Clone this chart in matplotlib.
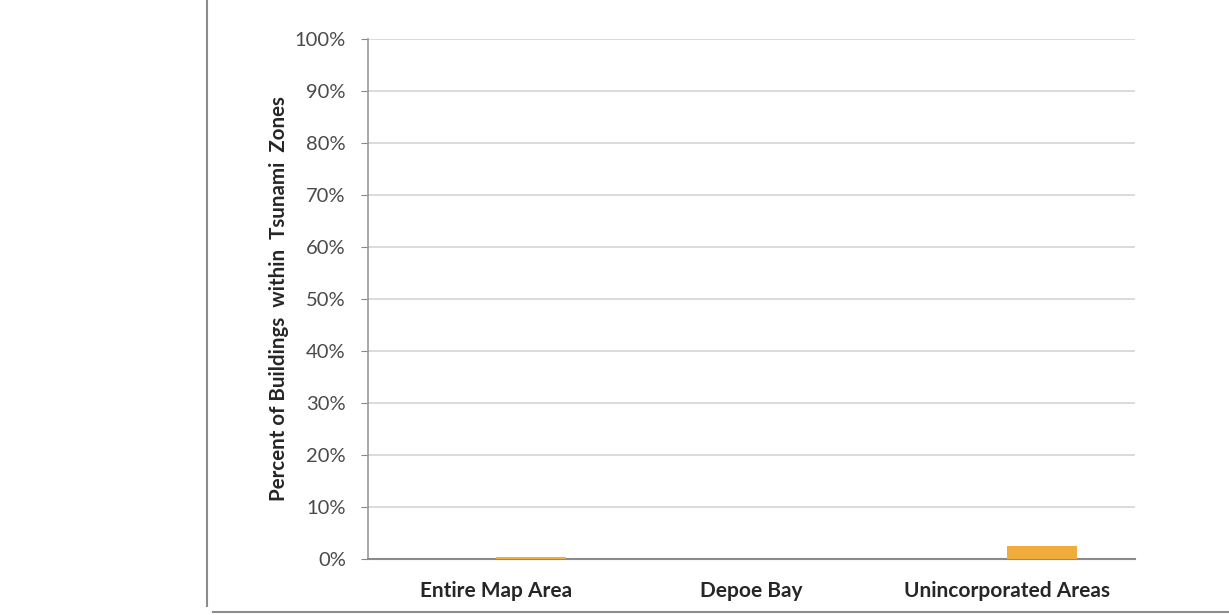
import matplotlib
matplotlib.use("Agg")
import matplotlib.pyplot as plt
from matplotlib.lines import Line2D
import numpy as np

# Share of buildings inside tsunami inundation zones (percent)
categories = ["Entire Map Area", "Depoe Bay", "Unincorporated Areas"]
series_a = [0.0, 0.0, 0.0]
series_b = [0.3, 0.0, 2.5]
y_ticks = [0, 10, 20, 30, 40, 50, 60, 70, 80, 90, 100]

plt.rcParams["font.family"] = ["Lato", "DejaVu Sans"]

fig = plt.figure(figsize=(12.29, 6.15), dpi=100)
W, H = 1229, 615
ax = fig.add_axes([368 / W, 1 - 559 / H, (1135 - 368) / W, (559 - 39) / H])

x = np.arange(len(categories))
bw = 0.275
ax.bar(x - bw / 2, series_a, width=bw, color="#4f81bd", zorder=3)
ax.bar(x + bw / 2, series_b, width=bw, color="#f0ac3c", zorder=3)

ax.set_xlim(-0.5, len(categories) - 0.5)
ax.set_ylim(0, 100)
ax.set_yticks(y_ticks)
ax.set_yticklabels([f"{v}%" for v in y_ticks], fontsize=14.5, color="#4a4a4a")
ax.set_xticks(x)
ax.set_xticklabels(categories, fontsize=15, fontweight="bold", color="#262626")
ax.tick_params(axis="x", length=0, pad=16)
ax.tick_params(axis="y", length=5, color="#888888", pad=11)
ax.yaxis.grid(True, color="#d4d4d4", linewidth=1.2, zorder=0)
ax.set_axisbelow(True)

for side in ("top", "right"):
    ax.spines[side].set_visible(False)
ax.spines["left"].set_color("#9a9a9a")
ax.spines["bottom"].set_color("#8a8a8a")
ax.spines["left"].set_linewidth(1.2)
ax.spines["bottom"].set_linewidth(1.5)

ax.set_ylabel("Percent of Buildings  within  Tsunami  Zones", fontsize=14.8,
              fontweight="bold", color="#262626", labelpad=4)

# Outer chart frame (left edge and bottom edge)
fig.add_artist(Line2D([207 / W, 207 / W], [1.0, 1 - 606 / H],
                      transform=fig.transFigure, color="#8c8c8c", linewidth=1.5))
fig.add_artist(Line2D([213 / W, 1.0], [1 - 612 / H, 1 - 612 / H],
                      transform=fig.transFigure, color="#8c8c8c", linewidth=1.5))

fig.savefig("out.png", dpi=100, facecolor="white")
